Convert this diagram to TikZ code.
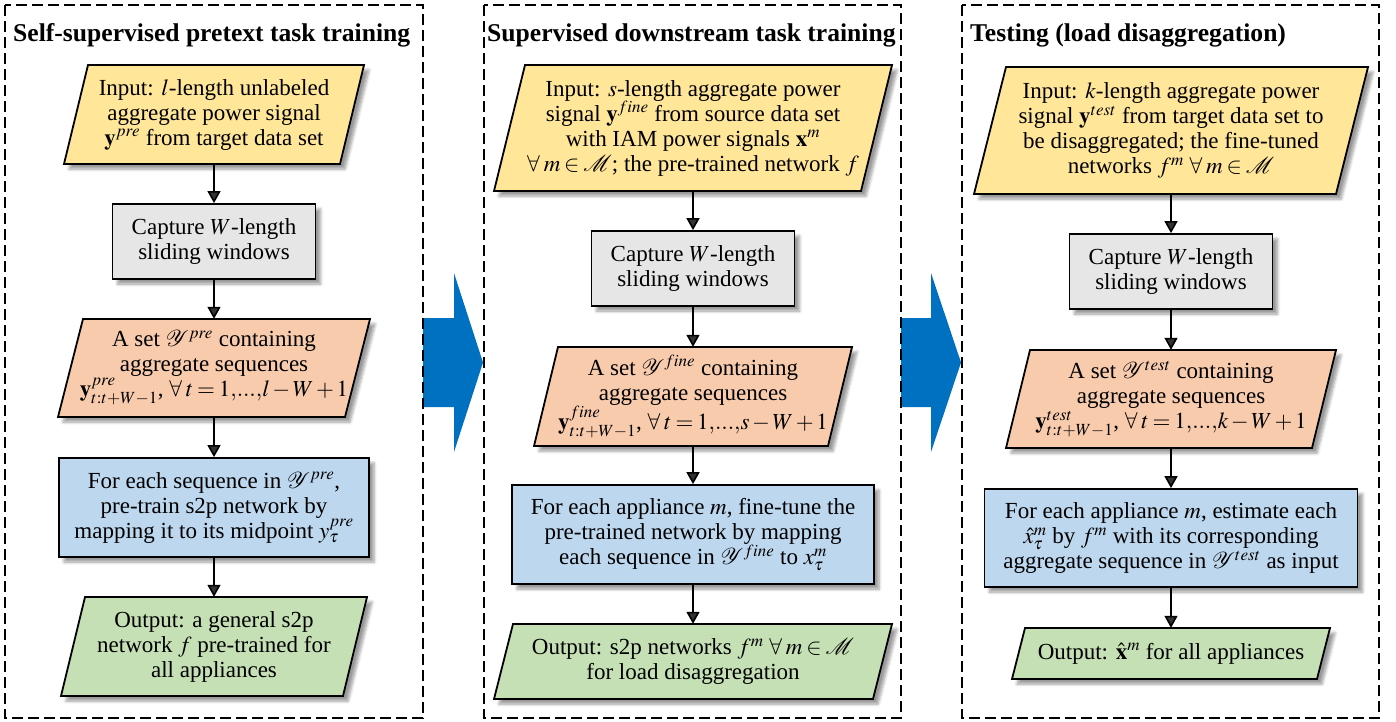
\documentclass[tikz,border=0pt]{standalone}
\usepackage{mathptmx}
\usepackage[no-math]{fontspec}
\setmainfont{Liberation Serif}
\usetikzlibrary{arrows.meta,shadows.blur}

\definecolor{inyellow}{HTML}{FFE699}
\definecolor{setorange}{HTML}{F8CBAD}
\definecolor{capgray}{HTML}{E6E6E6}
\definecolor{stepblue}{HTML}{BDD7EE}
\definecolor{outgreen}{HTML}{C5E0B4}
\definecolor{arrowblue}{HTML}{0070C0}

% compact math spacing for the set and range lines
\newcommand{\tightmath}{\thickmuskip=3mu plus 1mu\medmuskip=2mu plus 1mu}
% "1,...,n" written without the wide spacing of \ldots
\newcommand{\rng}[1]{1{,}{.}{.}{.}{,}#1}

\tikzset{
  boxline/.style={draw=black, line width=1.8pt, line join=miter},
  softshadow/.style={blur shadow={shadow xshift=5pt, shadow yshift=-5pt,
      shadow blur radius=3pt, shadow blur steps=6, shadow opacity=40}},
  txt/.style={inner sep=0pt, align=center,
      font=\fontsize{23}{25}\selectfont\tightmath},
  rectbox/.style={boxline, softshadow, txt, fill=#1},
  flow/.style={line width=1.6pt, -{Triangle[width=13pt,length=12pt]}},
  stageframe/.style={draw, line width=1.8pt, dash pattern=on 11pt off 5pt},
  stagetitle/.style={anchor=base west, inner sep=0pt,
      font=\bfseries\fontsize{25.6}{28}\selectfont},
  bigarrow/.style={fill=arrowblue},
}

% \slantbox{name}{cx}{cy}{edge width}{height}{slant}{fill}{text}
% draws a parallelogram leaning right and a named text node covering it
\newcommand{\slantbox}[8]{%
  \path[boxline, softshadow, fill=#7]
    ({#2-#4/2-#6/2},{#3+#5/2}) -- ({#2+#4/2-#6/2},{#3+#5/2}) --
    ({#2+#4/2+#6/2},{#3-#5/2}) -- ({#2-#4/2+#6/2},{#3-#5/2}) -- cycle;
  \node[txt, minimum width=#4, minimum height=#5] (#1) at (#2,#3) {#8};
}

\begin{document}
\begin{tikzpicture}[x=1pt, y=-1pt]
\useasboundingbox (0,0) rectangle (1396,721);

% block arrows between the stages
\path[bigarrow] (423,318) -- (454,318) -- (454,273) -- (483,362.5)
  -- (454,452) -- (454,407) -- (423,407) -- cycle;
\path[bigarrow] (901,318) -- (931,318) -- (931,273) -- (961,362.5)
  -- (931,452) -- (931,407) -- (901,407) -- cycle;

% stage frames
\draw[stageframe] (5,5) rectangle (423,718);
\draw[stageframe] (484,5) rectangle (901,718);
\draw[stageframe] (962,5) rectangle (1379,718);

\node[stagetitle] (t1) at (13,41) {Self-supervised pretext task training};
\node[stagetitle] (t2) at (487,41) {Supervised downstream task training};
\node[stagetitle] (t3) at (970,41) {Testing (load disaggregation)};

% ---------- stage 1: pretext training ----------
\slantbox{in1}{214}{114.5}{276}{99}{24}{inyellow}{Input: $l$-length unlabeled\\aggregate power signal\\$\mathbf{y}^{pre}$ from target data set}
\node[rectbox=capgray, minimum width=203, minimum height=75] (g1) at (214,241.5)
  {Capture $W$-length\\sliding windows};
\slantbox{o1}{214}{368}{287}{98}{25}{setorange}{A set $\mathcal{Y}^{pre}$ containing\\aggregate sequences\\$\mathbf{y}^{pre}_{t{:}t+W-1}$, $\forall\; t=\rng{l}-W+1$}
\node[rectbox=stepblue, minimum width=310, minimum height=99] (b1) at (214,507.5)
  {For each sequence in $\mathcal{Y}^{pre}$,\\pre-train s2p network by\\mapping it to its midpoint $y^{pre}_{\tau}$};
\slantbox{gr1}{214}{646.5}{282}{99}{24}{outgreen}{Output: a general s2p\\network $f$ pre-trained for\\all appliances}

\draw[flow] (in1.south) -- (g1.north);
\draw[flow] (g1.south) -- (o1.north);
\draw[flow] (o1.south) -- (b1.north);
\draw[flow] (b1.south) -- (gr1.north);

% ---------- stage 2: downstream training ----------
\slantbox{in2}{693}{128}{367}{126}{31}{inyellow}{Input: $s$-length aggregate power\\signal $\mathbf{y}^{fine}$ from source data set\\with IAM power signals $\mathbf{x}^{m}$\\$\forall\; m\in\mathcal{M}$; the pre-trained network $f$}
\node[rectbox=capgray, minimum width=203, minimum height=75] (g2) at (693,268.5)
  {Capture $W$-length\\sliding windows};
\slantbox{o2}{693}{396.5}{294}{99}{24}{setorange}{A set $\mathcal{Y}^{fine}$ containing\\aggregate sequences\\$\mathbf{y}^{fine}_{t{:}t+W-1}$, $\forall\; t=\rng{s}-W+1$}
\node[rectbox=stepblue, minimum width=362, minimum height=99] (b2) at (693,534.5)
  {For each appliance $m$, fine-tune the\\pre-trained network by mapping\\each sequence in $\mathcal{Y}^{fine}$ to $x^{m}_{\tau}$};
\slantbox{gr2}{693}{661.5}{379}{75}{19}{outgreen}{Output: s2p networks $f^{m}$ $\forall\; m\in\mathcal{M}$\\for load disaggregation}

\draw[flow] (in2.south) -- (g2.north);
\draw[flow] (g2.south) -- (o2.north);
\draw[flow] (o2.south) -- (b2.north);
\draw[flow] (b2.south) -- (gr2.north);

% ---------- stage 3: testing ----------
\slantbox{in3}{1171}{130.5}{362}{127}{32}{inyellow}{Input: $k$-length aggregate power\\signal $\mathbf{y}^{test}$ from target data set to\\be disaggregated; the fine-tuned\\networks $f^{m}$ $\forall\; m\in\mathcal{M}$}
\node[rectbox=capgray, minimum width=203, minimum height=75] (g3) at (1171,271.5)
  {Capture $W$-length\\sliding windows};
\slantbox{o3}{1171}{399}{306}{98}{24}{setorange}{A set $\mathcal{Y}^{test}$ containing\\aggregate sequences\\$\mathbf{y}^{test}_{t{:}t+W-1}$, $\forall\; t=\rng{k}-W+1$}
\node[rectbox=stepblue, minimum width=373, minimum height=98] (b3) at (1171,538)
  {For each appliance $m$, estimate each\\$\hat{x}^{m}_{\tau}$ by $f^{m}$ with its corresponding\\aggregate sequence in $\mathcal{Y}^{test}$ as input};
\slantbox{gr3}{1171}{653.5}{305}{51}{13}{outgreen}{Output: $\hat{\mathbf{x}}^{m}$ for all appliances}

\draw[flow] (in3.south) -- (g3.north);
\draw[flow] (g3.south) -- (o3.north);
\draw[flow] (o3.south) -- (b3.north);
\draw[flow] (b3.south) -- (gr3.north);
\end{tikzpicture}
\end{document}
